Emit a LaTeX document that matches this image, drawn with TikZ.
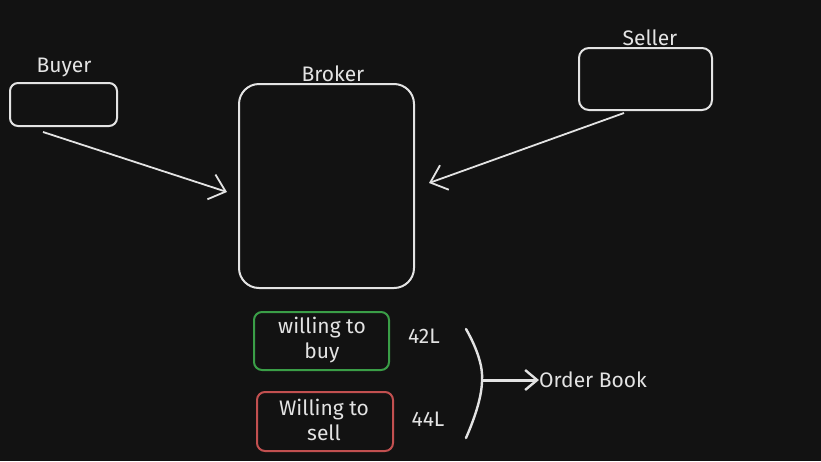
\documentclass[tikz,border=0pt]{standalone}
\usepackage{fontspec}
\setmainfont{Fira Sans}
\usetikzlibrary{arrows.meta}
\definecolor{bg}{HTML}{121212}
\definecolor{ink}{HTML}{E3E3E3}
\definecolor{gbox}{HTML}{3A9E47}
\definecolor{rbox}{HTML}{C25050}
\tikzset{
  box/.style={draw=ink, line width=2pt, rounded corners=#1},
  lbl/.style={text=ink, font=\fontsize{21}{25}\selectfont, inner sep=0pt},
  conn/.style={draw=ink, line width=1.8pt, -{Straight Barb[length=15pt,width=26pt,line width=1.8pt]}},
}
\begin{document}
\begin{tikzpicture}[x=1pt,y=-1pt]
\fill[bg] (0,0) rectangle (821,461);
\useasboundingbox (0,0) rectangle (821,461);
% boxes
\draw[box=8pt] (10,83) rectangle (117,126);
\node[lbl] (buyerl) at (64,67) {Buyer};
\draw[box=20pt] (239,84) rectangle (414,288);
\node[lbl] (brokerl) at (333,74) {Broker};
\draw[box=10pt] (579,48) rectangle (712,110);
\node[lbl] (sellerl) at (650,38) {Seller};
% arrows
\coordinate (bs) at (43,132);
\coordinate (be) at (227,192);
\coordinate (ss) at (624,113);
\coordinate (se) at (429,183);
\draw[conn] (bs) -- (be);
\draw[conn] (ss) -- (se);
% order boxes
\draw[box=8pt, draw=gbox] (254,312) rectangle (389,370);
\node[lbl, align=center] (buy) at (322,340) {willing to\\buy};
\draw[box=8pt, draw=rbox] (257,392) rectangle (393,451);
\node[lbl, align=center] (sell) at (324,420) {Willing to\\sell};
\node[lbl] (p42) at (424,336) {42L};
\node[lbl] (p44) at (428,419) {44L};
% bracket
\coordinate (b1) at (466,329);
\coordinate (bm) at (482,380);
\coordinate (b2) at (466,438);
\draw[ink, line width=2.4pt, line cap=round] (b1) .. controls (478,350) and (483,368) .. (bm) .. controls (482,395) and (476,415) .. (b2);
\node[lbl, anchor=west] (ob) at (539,380) {Order Book};
\draw[draw=ink, line width=3pt, -{Straight Barb[length=12pt,width=20pt,line width=2.4pt]}] (bm) -- (ob.west);
\end{tikzpicture}
\end{document}
